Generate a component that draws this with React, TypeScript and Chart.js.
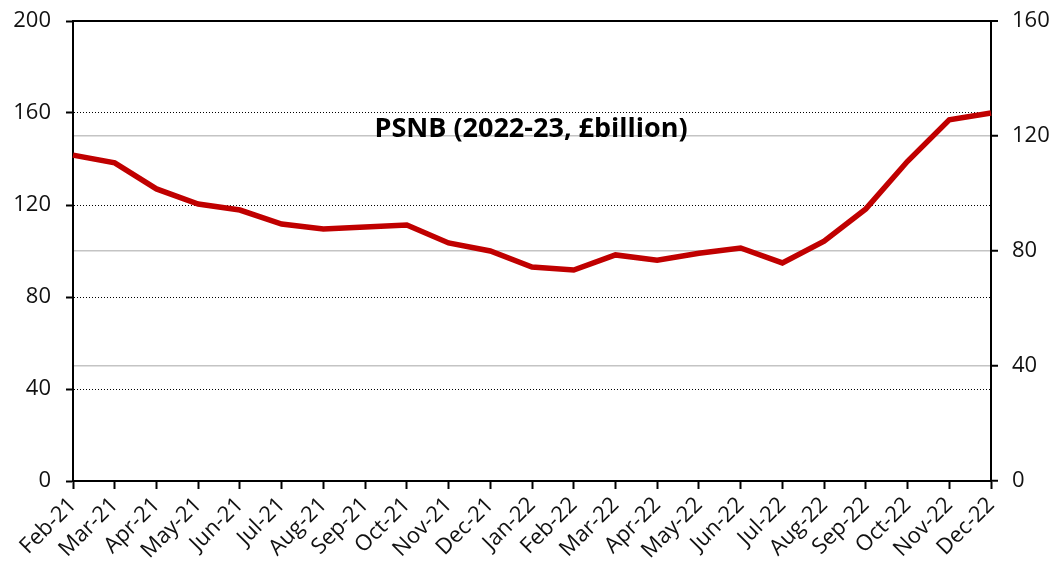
import React, { useEffect, useRef } from "react";
import { Chart, registerables } from "chart.js";

Chart.register(...registerables);

const categories = [
  "Feb-21", "Mar-21", "Apr-21", "May-21", "Jun-21", "Jul-21", "Aug-21", "Sep-21",
  "Oct-21", "Nov-21", "Dec-21", "Jan-22", "Feb-22", "Mar-22", "Apr-22", "May-22",
  "Jun-22", "Jul-22", "Aug-22", "Sep-22", "Oct-22", "Nov-22", "Dec-22",
];
const psnbValues = [
  141.7, 138.3, 127, 120.4, 117.8, 111.7, 109.6, 110.4, 111.3, 103.5, 100, 93,
  91.7, 98.3, 96, 99, 101.3, 94.8, 104.3, 118.3, 139, 157, 160,
];
const leftTicks = [0, 40, 80, 120, 160, 200];
const rightTicks = [0, 40, 80, 120, 160];
const titleText = "PSNB (2022-23, £billion)";

const FONT = "'Open Sans', 'DejaVu Sans', sans-serif";

export default function App() {
  const ref = useRef<HTMLCanvasElement | null>(null);
  useEffect(() => {
    document.body.style.margin = "0";
    const canvas = ref.current!;
    const titlePlugin = {
      id: "innerTitle",
      afterDatasetsDraw(chart: any) {
        const { ctx, chartArea } = chart;
        ctx.save();
        ctx.font = `bold 27px ${FONT}`;
        ctx.fillStyle = "#000";
        ctx.textAlign = "center";
        ctx.textBaseline = "middle";
        const x = chartArea.left + (chartArea.right - chartArea.left) * 0.499;
        const y = chartArea.top + (chartArea.bottom - chartArea.top) * 0.235;
        ctx.fillText(titleText, x, y);
        ctx.restore();
      },
    };
    const chart = new Chart(canvas, {
      type: "line",
      data: {
        labels: categories,
        datasets: [
          {
            data: psnbValues,
            borderColor: "#C00000",
            borderWidth: 5.5,
            pointRadius: 0,
            tension: 0,
            fill: false,
            yAxisID: "y",
          },
        ],
      },
      options: {
        animation: false,
        responsive: false,
        maintainAspectRatio: false,
        layout: { padding: { top: 21, left: 0, right: 0, bottom: 0 } },
        plugins: { legend: { display: false }, tooltip: { enabled: false }, title: { display: false } },
        scales: {
          x: {
            type: "category",
            offset: false,
            grid: {
              drawOnChartArea: false,
              drawTicks: true,
              tickLength: 8,
              tickColor: "#000",
              tickWidth: 2,
            },
            border: { display: true, color: "#000", width: 2 },
            ticks: {
              autoSkip: false,
              minRotation: 45,
              maxRotation: 45,
              padding: 3,
              color: "#111",
              font: { family: FONT, size: 22 },
            },
            afterFit(scale: any) {
              scale.height = 88;
              scale.paddingLeft = 0;
              scale.paddingRight = 0;
            },
          },
          y: {
            position: "left",
            min: 0,
            max: 200,
            afterBuildTicks(scale: any) {
              scale.ticks = leftTicks.map((v) => ({ value: v }));
            },
            grid: {
              color: (c: any) => (c.tick && (c.tick.value === 0 || c.tick.value === 200) ? "rgba(0,0,0,0)" : "#000"),
              lineWidth: 1,
              tickLength: 7,
              tickColor: "#000",
              tickWidth: 2,
              tickBorderDash: [],
            },
            border: { display: true, color: "#000", width: 2, dash: [1, 2] },
            ticks: {
              padding: 15,
              color: "#111",
              font: { family: FONT, size: 22 },
            },
            afterFit(scale: any) {
              scale.width = 73;
              scale.paddingTop = 0;
              scale.paddingBottom = 0;
            },
          },
          y2: {
            position: "right",
            min: 0,
            max: 160,
            afterBuildTicks(scale: any) {
              scale.ticks = rightTicks.map((v) => ({ value: v }));
            },
            grid: {
              color: (c: any) =>
                c.tick && c.tick.value === 160 ? "#000" : c.tick && c.tick.value === 0 ? "rgba(0,0,0,0)" : "#C4C4C4",
              lineWidth: (c: any) => (c.tick && c.tick.value === 160 ? 2 : 1.5),
              tickLength: 7,
              tickColor: "#000",
              tickWidth: 2,
            },
            border: { display: true, color: "#000", width: 2 },
            ticks: {
              padding: 14,
              color: "#111",
              font: { family: FONT, size: 22 },
            },
            afterFit(scale: any) {
              scale.width = 68;
              scale.paddingTop = 0;
              scale.paddingBottom = 0;
            },
          },
        },
      },
      plugins: [titlePlugin],
    });
    return () => chart.destroy();
  }, []);
  return (
    <div style={{ width: 1059, height: 569 }}>
      <canvas ref={ref} width={1059} height={569} style={{ width: 1059, height: 569, display: "block" }} />
    </div>
  );
}
